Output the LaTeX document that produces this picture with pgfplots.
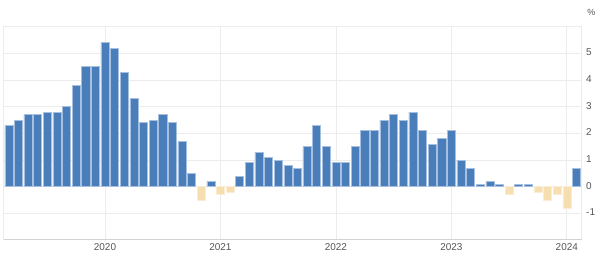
\documentclass[border=0pt]{standalone}
\usepackage{pgfplots}
\pgfplotsset{compat=1.18}
\usepackage{fontspec}
\setmainfont{Liberation Sans}
\definecolor{barblue}{HTML}{4A7EBB}
\definecolor{baredge}{HTML}{A8C0E0}
\definecolor{barneg}{HTML}{F5DEB0}
\definecolor{negedge}{HTML}{FAEDD4}
\definecolor{gridc}{HTML}{ECECEC}
\definecolor{labc}{HTML}{555555}
\begin{document}
\begin{tikzpicture}
\path[use as bounding box] (0,0) rectangle (601bp,274bp);
\begin{axis}[
  at={(3.5bp,35bp)}, anchor=south west,
  scale only axis, width=578.2bp, height=212.3bp,
  xmin=-10.55, xmax=49.55, ymin=-1.96, ymax=6,
  ybar, bar width=0.84, bar shift=0pt,
  xtick={0,12,24,36,48}, xticklabels={2020,2021,2022,2023,2024},
  ytick={-1,0,1,2,3,4,5},
  yticklabel pos=right,
  major tick length=0pt,
  grid=major, major grid style={gridc, line width=0.6bp},
  axis line style={gridc, line width=0.8bp},
  tick label style={font=\fontsize{10}{12}\selectfont, text=labc},
  yticklabel style={anchor=west, xshift=1bp, yshift=1bp},
  xticklabel style={yshift=-1bp},
  /pgf/number format/assume math mode=true,
  clip=false,
]
\addplot[fill=barblue, draw=baredge, line width=0.5bp] coordinates {
(-10,2.3) (-9,2.5) (-8,2.7) (-7,2.7) (-6,2.8) (-5,2.8) (-4,3.0) (-3,3.8) (-2,4.5) (-1,4.5)
(0,5.4) (1,5.2) (2,4.3) (3,3.3) (4,2.4) (5,2.5) (6,2.7) (7,2.4) (8,1.7) (9,0.5) (11,0.2)
(14,0.4) (15,0.9) (16,1.3) (17,1.1) (18,1.0) (19,0.8) (20,0.7) (21,1.5) (22,2.3) (23,1.5)
(24,0.9) (25,0.9) (26,1.5) (27,2.1) (28,2.1) (29,2.5) (30,2.7) (31,2.5) (32,2.8) (33,2.1) (34,1.6) (35,1.8)
(36,2.1) (37,1.0) (38,0.7) (39,0.1) (40,0.2) (41,0.08) (43,0.1) (44,0.08)
(49,0.7)
};
\addplot[fill=barneg, draw=negedge, line width=0.5bp] coordinates {
(10,-0.5) (12,-0.3) (13,-0.2) (42,-0.3) (45,-0.2) (46,-0.5) (47,-0.3) (48,-0.8)
};
\draw[color=gray!35, line width=0.8bp] (rel axis cs:0,0) -- (rel axis cs:1,0);
\node[anchor=west, text=labc, font=\fontsize{9}{11}\selectfont, inner sep=0pt] at (rel axis cs:1.0095,1.068) {\%};
\end{axis}
\end{tikzpicture}
\end{document}
